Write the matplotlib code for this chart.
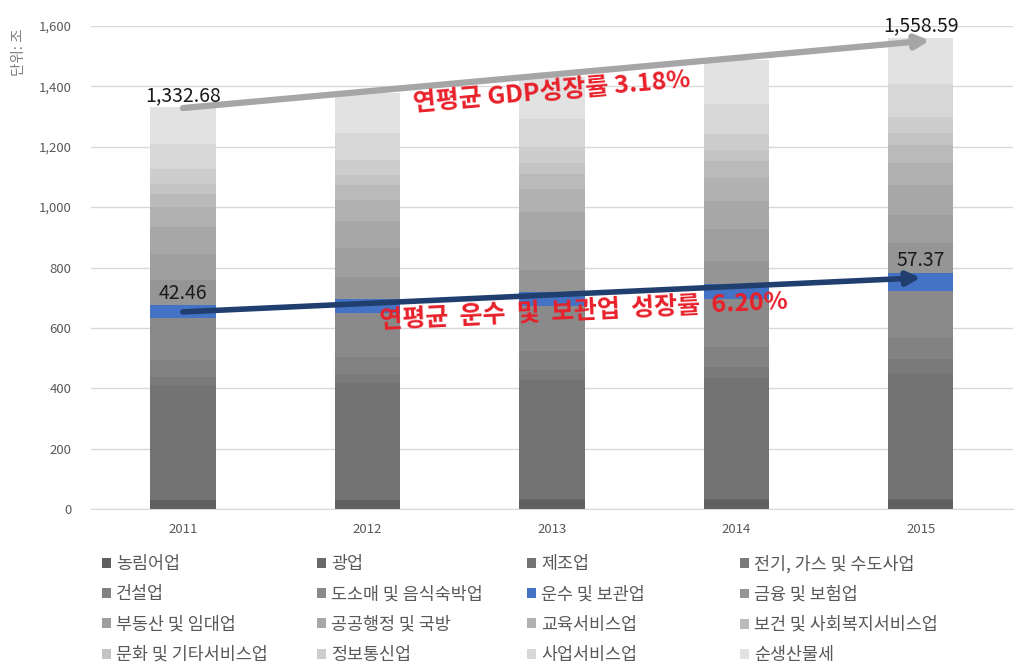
import matplotlib.pyplot as plt
from matplotlib.patches import Patch
from matplotlib.ticker import FuncFormatter, MultipleLocator

plt.rcParams['font.family'] = ['Noto Sans CJK KR', 'DejaVu Sans']

years = ['2011', '2012', '2013', '2014', '2015']

# 산업별 GDP (단위: 조원), 그림에서 읽은 값
agri = [30, 30, 31, 32, 31]
mining = [2, 2, 2, 2, 2]
manuf = [378, 386, 396, 401, 419]
utility = [28, 30, 32, 36, 44]
constr = [55, 56, 62, 66, 72]
trade = [139, 146, 150, 158, 155]
transport = [42.46, 45, 47, 52, 57.37]
finance = [83, 74, 72, 73, 100]
realestate = [87, 95, 100, 106, 92]
public = [89, 90, 93, 95, 102]
edu = [66, 70, 74, 76, 71]
health = [45, 49, 52, 57, 61]
culture = [33, 34, 36, 35, 38]
infocomm = [49, 50, 53, 52, 55]
business = [83, 88, 93, 100, 108]
nettax = [123.22, 132.46, 136.45, 145.08, 151.22]

gdp_total = [1332.68, 1377.46, 1429.45, 1486.08, 1558.59]

names = ['농림어업', '광업', '제조업', '전기, 가스 및 수도사업',
         '건설업', '도소매 및 음식숙박업', '운수 및 보관업', '금융 및 보험업',
         '부동산 및 임대업', '공공행정 및 국방', '교육서비스업', '보건 및 사회복지서비스업',
         '문화 및 기타서비스업', '정보통신업', '사업서비스업', '순생산물세']
series = [agri, mining, manuf, utility, constr, trade, transport, finance,
          realestate, public, edu, health, culture, infocomm, business, nettax]
colors = ['#5f5f5f', '#696969', '#737373', '#7a7a7a', '#828282', '#8a8a8a',
          '#4472c4', '#959595', '#9f9f9f', '#a7a7a7', '#b1b1b1', '#bababa',
          '#c4c4c4', '#cdcdcd', '#d7d7d7', '#e2e2e2']

fig = plt.figure(figsize=(10.24, 6.67), dpi=100)
ax = fig.add_axes([0.0886, 0.2364, 0.9006, 0.725])

x = list(range(len(years)))
bottom = [0.0] * len(years)
tr_bottom = None
for name, vals, col in zip(names, series, colors):
    ax.bar(x, vals, width=0.355, bottom=bottom, color=col, edgecolor='none',
           zorder=2, label=name)
    if name == '운수 및 보관업':
        tr_bottom = list(bottom)
    bottom = [b + v for b, v in zip(bottom, vals)]

ax.set_xlim(-0.5, 4.5)
ax.set_ylim(0, 1600)
ax.yaxis.set_major_locator(MultipleLocator(200))
ax.yaxis.set_major_formatter(FuncFormatter(lambda v, p: f'{v:,.0f}'))
ax.grid(axis='y', color='#d9d9d9', lw=1, zorder=0)
for s in ['left', 'right', 'top']:
    ax.spines[s].set_visible(False)
ax.spines['bottom'].set_color('#d9d9d9')
ax.tick_params(length=0, colors='#595959', labelsize=9.5)
ax.tick_params(axis='x', pad=10)
ax.tick_params(axis='y', pad=14)
ax.set_xticks(x)
ax.set_xticklabels(years)

fig.text(0.019, 0.958, '단위: 조', rotation=90, va='top', ha='center',
         fontsize=10.5, color='#7f7f7f')

# GDP 추세 화살표
ax.annotate('', xy=(4.05, gdp_total[-1] - 7), xytext=(0, gdp_total[0] - 5),
            arrowprops=dict(arrowstyle='-|>', color='#a6a6a6', lw=4.5,
                            mutation_scale=20, shrinkA=0, shrinkB=0), zorder=5)
# 운수 및 보관업 추세 화살표
tr_start = tr_bottom[0] + transport[0] * 0.5
tr_end = tr_bottom[-1] + transport[-1] * 0.75
ax.annotate('', xy=(4.0, tr_end), xytext=(0, tr_start),
            arrowprops=dict(arrowstyle='-|>', color='#203f6e', lw=4,
                            mutation_scale=20, shrinkA=0, shrinkB=0), zorder=5)

lab_kw = dict(ha='center', va='bottom', fontsize=14, color='#1a1a1a', zorder=6)
ax.text(0, gdp_total[0] + 2, f'{gdp_total[0]:,.2f}', **lab_kw)
ax.text(4, gdp_total[-1] + 8, f'{gdp_total[-1]:,.2f}', **lab_kw)
ax.text(0, tr_bottom[0] + transport[0] + 6, f'{transport[0]:.2f}', **lab_kw)
ax.text(4, tr_bottom[-1] + transport[-1] + 8, f'{transport[-1]:.2f}', **lab_kw)

ax.text(2.0, 1380, '연평균 GDP성장률 3.18%', ha='center', va='center',
        rotation=5, rotation_mode='anchor', fontsize=18, fontweight='bold',
        color='#e8202a', zorder=7)
ax.text(2.17, 655, '연평균  운수  및  보관업  성장률  6.20%', ha='center', va='center',
        rotation=2.7, rotation_mode='anchor', fontsize=18, fontweight='bold',
        color='#e8202a', zorder=7)

# 범례: 4열, 행 방향 순서
col_x = [0.1, 0.31, 0.515, 0.723]
for c in range(4):
    idx = [c + 4 * r for r in range(4)]
    handles = [Patch(facecolor=colors[i], edgecolor='none') for i in idx]
    labels = [names[i] for i in idx]
    fig.legend(handles, labels, loc='upper left', bbox_to_anchor=(col_x[c], 0.168),
               frameon=False, fontsize=12.5, handlelength=0.5, handleheight=0.5,
               handletextpad=0.3, labelspacing=0.71, borderpad=0,
               borderaxespad=0, labelcolor='#595959')

fig.savefig('out.png', dpi=100)
